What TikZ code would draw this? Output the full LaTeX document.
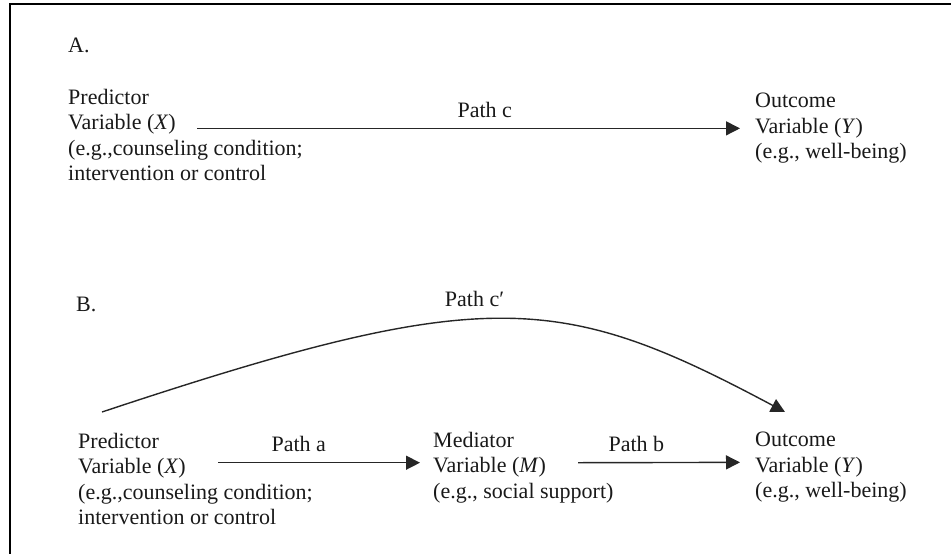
\documentclass[tikz,border=0pt]{standalone}
\usepackage{fontspec}
\setmainfont{Liberation Serif}
\usetikzlibrary{arrows.meta}

\tikzset{
  vartext/.style={align=left, anchor=north west, inner sep=0pt, text=black!90,
    font=\fontsize{22}{25.5}\selectfont},
  pathlabel/.style={inner sep=0pt, text=black!90, font=\fontsize{22}{25.5}\selectfont},
  patharrow/.style={draw=black!85, line width=1.4pt, -{Triangle[length=14pt,width=14pt]}}
}

\begin{document}
\begin{tikzpicture}[x=1pt,y=-1pt]
  \useasboundingbox (0,0) rectangle (951,554);
  % frame
  \draw[line width=2pt] (10,554) -- (10,4) -- (951,4);

  % A. total effect
  \node[pathlabel, anchor=base west] (labA) at (68,52) {A.};
  \node[vartext] (predA) at (68,89) {Predictor\\Variable (\textit{X})\\(e.g.,counseling condition;\\intervention or control};
  \node[vartext] (outA) at (755,93) {Outcome\\Variable (\textit{Y})\\(e.g., well-being)};
  \draw[patharrow] ([xshift=129pt]predA.west |- outA.west) -- ([xshift=-15pt]outA.west)
    node[pathlabel, pos=0.53, above=10pt] {Path c};

  % B. mediation
  \node[pathlabel, anchor=base west] (labB) at (76,311) {B.};
  \node[vartext] (predB) at (78,433) {Predictor\\Variable (\textit{X})\\(e.g.,counseling condition;\\intervention or control};
  \node[vartext] (medB) at (433,432) {Mediator\\Variable (\textit{M})\\(e.g., social support)};
  \node[vartext] (outB) at (755,432) {Outcome\\Variable (\textit{Y})\\(e.g., well-being)};
  \draw[patharrow] ([xshift=140pt,yshift=5pt]predB.west |- medB.west) -- ([xshift=-13pt,yshift=5pt]medB.west)
    node[pathlabel, pos=0.40, above=10pt] {Path a};
  \draw[patharrow] ([xshift=145pt,yshift=5pt]medB.west) -- ([xshift=-15pt,yshift=5pt]outB.west)
    node[pathlabel, pos=0.36, above=10pt] {Path b};
  \draw[patharrow] ([xshift=24pt,yshift=21pt]predB.north west)
    .. controls +(385,-128) and +(-225,-120) .. ([xshift=30pt,yshift=20pt]outB.north west)
    node[pathlabel, pos=0.45, above=12pt] {Path c′};
\end{tikzpicture}
\end{document}
